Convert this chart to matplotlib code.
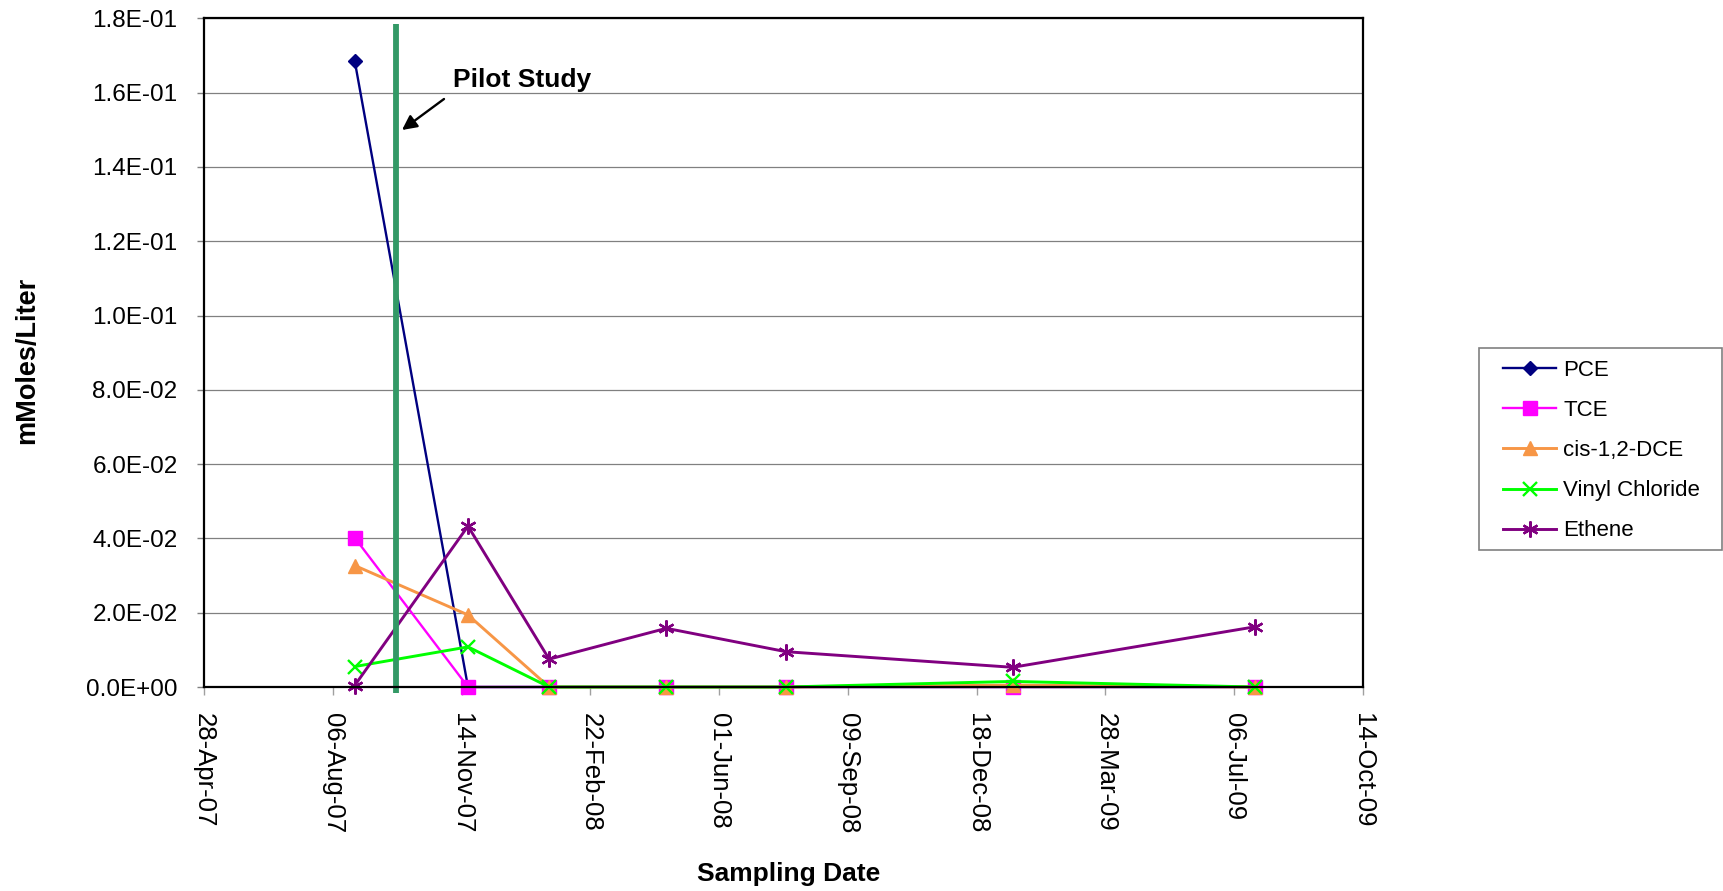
import matplotlib
matplotlib.use('Agg')
import matplotlib.pyplot as plt
import matplotlib.dates as mdates
from matplotlib.patches import Rectangle
from matplotlib.ticker import FuncFormatter, FixedLocator
from datetime import datetime, timedelta

plt.rcParams['font.family'] = ['Liberation Sans', 'DejaVu Sans']

# ---- data ----
sample_dates = ['2007-08-23', '2007-11-19', '2008-01-21', '2008-04-21',
                '2008-07-23', '2009-01-15', '2009-07-22']
pce = [0.1686, 0.0, 0.0, 0.0, 0.0, 0.0, 0.0]
tce = [0.0402, 0.0, 0.0, 0.0, 0.0, 0.0, 0.0]
dce = [0.0327, 0.0194, 0.0, 0.0, 0.0, 0.0005, 0.0]
vinyl_chloride = [0.0055, 0.0108, 0.0, 0.0, 0.0, 0.0015, 0.0]
ethene = [0.0004, 0.0433, 0.0075, 0.0158, 0.0095, 0.0053, 0.0162]
series_names = ['PCE', 'TCE', 'cis-1,2-DCE', 'Vinyl Chloride', 'Ethene']
pilot_date = '2007-09-24'
pilot_label = 'Pilot Study'
x_start = '2007-04-28'
x_end = '2009-10-14'
tick_step_days = 100
y_ticks = [0.0, 0.02, 0.04, 0.06, 0.08, 0.10, 0.12, 0.14, 0.16, 0.18]

W, H = 1723, 891
fig = plt.figure(figsize=(W / 100, H / 100), dpi=100)
ax = fig.add_axes([204 / W, 1 - 687 / H, (1363 - 204) / W, (687 - 18.3) / H])

def d(s):
    return datetime.strptime(s, '%Y-%m-%d')

xs = mdates.date2num([d(s) for s in sample_dates])
x0 = d(x_start)
x1 = d(x_end)
ticks = []
t = x0
while t <= x1:
    ticks.append(mdates.date2num(t))
    t += timedelta(days=tick_step_days)

styles = [
    dict(color='#000080', marker='D', markersize=7.5, lw=1.7),
    dict(color='#FF00FF', marker='s', markersize=10, lw=1.7),
    dict(color='#F79646', marker='^', markersize=10.5, lw=2.1),
    dict(color='#00FF00', marker='x', markersize=10.5, lw=2.1, mew=1.7),
    dict(color='#800080', marker=(6, 2, 0), markersize=11.5, lw=2.1, mew=1.7),
]
handles = []
for i, (vals, name, st) in enumerate(zip([pce, tce, dce, vinyl_chloride, ethene],
                                          series_names, styles)):
    h, = ax.plot(xs, vals, label=name, zorder=3 + i, clip_on=False, **st)
    handles.append(h)

pd_num = mdates.date2num(d(pilot_date))
ax.plot([pd_num, pd_num], [-0.0016, 0.1785], color='#339966', lw=4.2,
        solid_capstyle='butt', zorder=10, clip_on=False)

ax.set_xlim(ticks[0], ticks[-1])
ax.set_ylim(0, 0.18)
ax.xaxis.set_major_locator(FixedLocator(ticks))
ax.xaxis.set_major_formatter(mdates.DateFormatter('%d-%b-%y'))
ax.yaxis.set_major_locator(FixedLocator(y_ticks))
ax.yaxis.set_major_formatter(FuncFormatter(lambda v, p: '%.1E' % v))

ax.grid(axis='y', color='#808080', lw=0.9, zorder=0)
ax.set_axisbelow(True)
for s in ax.spines.values():
    s.set_color('black')
    s.set_linewidth(1.6)
    s.set_zorder(12)

ax.tick_params(axis='y', direction='out', length=5, width=1, color='#808080',
               labelsize=17.5, pad=14)
ax.tick_params(axis='x', direction='out', length=6, width=1, color='#A0A0A0',
               labelsize=18.5, pad=13)
for lab in ax.get_xticklabels():
    lab.set_rotation(-90)
    lab.set_ha('center')
    lab.set_va('top')

fig.text(27 / W, 1 - 360 / H, 'mMoles/Liter', rotation=90, ha='center',
         va='center', fontsize=19.5, fontweight='bold')
fig.text(789 / W, 1 - 881 / H, 'Sampling Date', ha='center', va='baseline',
         fontsize=19, fontweight='bold')

fig.text(453 / W, 1 - 87 / H, pilot_label, ha='left', va='baseline',
         fontsize=19, fontweight='bold')
ax.annotate('', xy=(402 / W, 1 - 130 / H), xytext=(444 / W, 1 - 99 / H),
            xycoords='figure fraction', textcoords='figure fraction',
            arrowprops=dict(arrowstyle='-|>', color='black', lw=1.7,
                            mutation_scale=22, shrinkA=0, shrinkB=0))

# legend frame
fig.patches.append(Rectangle((1479 / W, 1 - 550 / H), (1722 - 1479) / W,
                             (550 - 348) / H, transform=fig.transFigure,
                             facecolor='white', edgecolor='#808080', lw=1.2,
                             zorder=0))
leg = fig.legend(handles=handles, loc='upper left',
                 bbox_to_anchor=(1503 / W, 1 - 360 / H), frameon=False,
                 fontsize=16, handlelength=2.4, handletextpad=0.3,
                 labelspacing=0.86, borderpad=0, borderaxespad=0)

fig.savefig('out.png', dpi=100, facecolor='white')
